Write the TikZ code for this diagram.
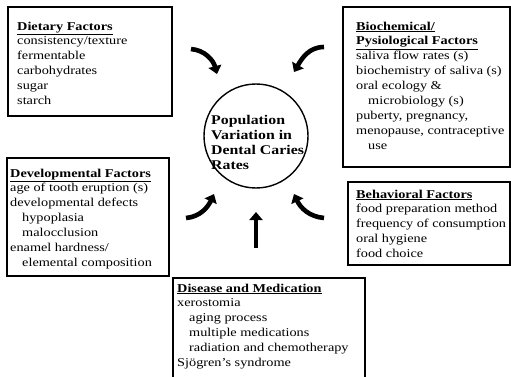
\documentclass[tikz,border=0pt]{standalone}
\usepackage{fontspec}
\setmainfont{Liberation Serif}[FakeStretch=1.19]
\usetikzlibrary{arrows.meta}
\newcommand{\headline}[1]{\underline{\textbf{#1}}}
\tikzset{
  factorbox/.style={line width=1.6pt},
  factortext/.style={anchor=north west,align=left,inner sep=0pt,
    font=\fontsize{12}{14.9}\selectfont},
  influence/.style={line width=4.6pt,-{Triangle[length=8pt,width=13pt]}}
}

\begin{document}
\begin{tikzpicture}[x=1pt,y=-1pt]
    \useasboundingbox (0,0) rectangle (511,377);

    % central circle
    \node [draw,circle,line width=1.4pt,minimum size=104pt] (pop) at (256,136) {};
    \node [factortext,font=\fontsize{13.3}{14.9}\selectfont\bfseries] (poptext) at (211,115.5)
      {Population\\Variation in\\Dental Caries\\Rates};

    % factor boxes
    \draw [factorbox] (8,7) rectangle (172,116);
    \node [factortext] (diet) at (17,21.5)
      {\headline{Dietary Factors}\\consistency/texture\\fermentable\\carbohydrates\\sugar\\starch};

    \draw [factorbox] (343,7) rectangle (510,167);
    \node [factortext] (bio) at (356,21.5)
      {\headline{Biochemical/}\\\headline{Pysiological Factors}\\saliva flow rates (s)\\biochemistry of saliva (s)\\oral ecology \&\\\hspace*{1em}microbiology (s)\\puberty, pregnancy,\\menopause, contraceptive\\\hspace*{1em}use};

    \draw [factorbox] (7,158) rectangle (169,276);
    \node [factortext] (dev) at (10,168.5)
      {\headline{Developmental Factors}\\age of tooth eruption (s)\\developmental defects\\\hspace*{1em}hypoplasia\\\hspace*{1em}malocclusion\\enamel hardness/\\\hspace*{1em}elemental composition};

    \draw [factorbox] (348,182) rectangle (510,265);
    \node [factortext] (beh) at (356,189.5)
      {\headline{Behavioral Factors}\\food preparation method\\frequency of consumption\\oral hygiene\\food choice};

    \draw [factorbox] (173,278) rectangle (365,390);
    \node [factortext] (dis) at (177,283.5)
      {\headline{Disease and Medication}\\xerostomia\\\hspace*{1em}aging process\\\hspace*{1em}multiple medications\\\hspace*{1em}radiation and chemotherapy\\Sjögren's syndrome};

    % arrow ends
    \coordinate (dietarr) at (191,49);
    \coordinate (dietend) at (217,74);
    \coordinate (bioarr) at (324,47);
    \coordinate (bioend) at (294,72);
    \coordinate (devarr) at (186,218);
    \coordinate (devend) at (214,194);
    \coordinate (beharr) at (324,218);
    \coordinate (behend) at (294,194);
    \coordinate (disarr) at (256,248);
    \coordinate (disend) at (256,212);

    \draw [influence] (dietarr) to [out=-5,in=105] (dietend);
    \draw [influence] (bioarr) to [out=180,in=60] (bioend);
    \draw [influence] (devarr) to [out=5,in=-115] (devend);
    \draw [influence] (beharr) to [out=175,in=-65] (behend);
    \draw [influence] (disarr) -- (disend);
\end{tikzpicture}
\end{document}
